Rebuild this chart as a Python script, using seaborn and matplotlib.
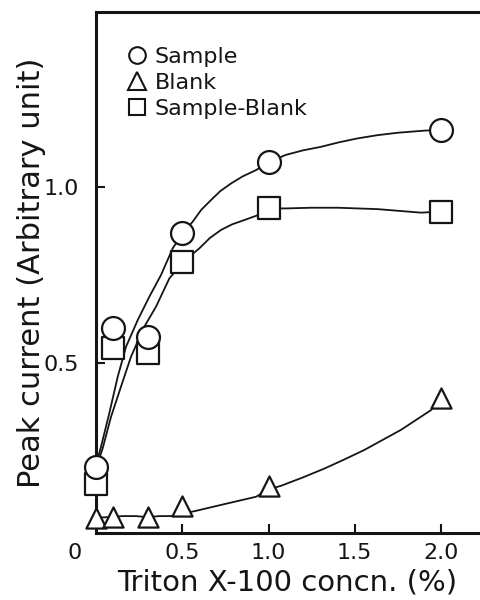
import matplotlib
matplotlib.use("Agg")
import matplotlib.pyplot as plt
from matplotlib.lines import Line2D
from matplotlib.transforms import ScaledTranslation
import seaborn as sns

# Measured peak currents vs. Triton X-100 concentration
conc = [0.0, 0.1, 0.3, 0.5, 1.0, 2.0]
sample = [0.205, 0.598, 0.575, 0.868, 1.072, 1.162]
blank = [0.060, 0.063, 0.062, 0.094, 0.151, 0.400]
sample_minus_blank = [0.155, 0.542, 0.528, 0.788, 0.939, 0.930]

# Hand-drawn trend curves through each series
sample_curve_x = [0.0, 0.029, 0.077, 0.126, 0.174, 0.242, 0.309, 0.377, 0.445, 0.503,
                  0.56, 0.61, 0.667, 0.72, 0.783, 0.85, 0.928, 1.01, 1.10, 1.2, 1.304,
                  1.41, 1.517, 1.63, 1.749, 1.903, 2.0]
sample_curve_y = [0.21, 0.262, 0.357, 0.461, 0.546, 0.622, 0.688, 0.75, 0.826, 0.868,
                  0.901, 0.935, 0.963, 0.988, 1.01, 1.03, 1.048, 1.072, 1.091, 1.104, 1.114,
                  1.127, 1.138, 1.147, 1.154, 1.16, 1.162]
smb_curve_x = [0.0, 0.039, 0.087, 0.145, 0.203, 0.28, 0.348, 0.425, 0.508, 0.6, 0.66,
               0.725, 0.79, 0.86, 0.928, 1.01, 1.10, 1.25, 1.40, 1.633, 1.884, 2.0]
smb_curve_y = [0.20, 0.258, 0.347, 0.433, 0.518, 0.603, 0.66, 0.74, 0.788, 0.826, 0.855,
               0.878, 0.894, 0.906, 0.918, 0.939, 0.939, 0.941, 0.941, 0.937, 0.927, 0.93]
blank_curve_x = [0.0, 0.097, 0.155, 0.232, 0.30, 0.367, 0.435, 0.58, 0.744, 0.928, 0.995,
                 1.072, 1.2, 1.324, 1.44, 1.556, 1.768, 1.942, 2.0]
blank_curve_y = [0.06, 0.063, 0.065, 0.065, 0.062, 0.065, 0.065, 0.08, 0.099, 0.12, 0.14,
                 0.151, 0.175, 0.20, 0.226, 0.253, 0.31, 0.366, 0.40]

series_labels = ["Sample", "Blank", "Sample-Blank"]
x_ticks = [0, 0.5, 1.0, 1.5, 2.0]
x_tick_labels = ["0", "0.5", "1.0", "1.5", "2.0"]
y_ticks = [0.5, 1.0]
y_tick_labels = ["0.5", "1.0"]

sns.set_theme(style="ticks")
plt.rcParams["font.family"] = ["DejaVu Sans"]
ink = "#151515"

fig = plt.figure(figsize=(4.8, 6.0), dpi=100)
ax_w = 2.3 * 172.5 / 480
ax = fig.add_axes([0.2, 1 - 533 / 600, ax_w, 521 / 600])
ax.set_facecolor("white")

# trend curves
for cx, cy in [(sample_curve_x, sample_curve_y),
               (smb_curve_x, smb_curve_y),
               (blank_curve_x, blank_curve_y)]:
    sns.lineplot(x=cx, y=cy, sort=False, estimator=None, color=ink,
                 linewidth=1.3, ax=ax, zorder=2)

# open markers
mk = dict(color="white", edgecolor=ink, linewidth=1.6, clip_on=False, legend=False)
sns.scatterplot(x=conc, y=sample_minus_blank, marker="s", s=250, ax=ax, zorder=3, **mk)
sns.scatterplot(x=conc, y=sample, marker="o", s=272, ax=ax, zorder=4, **mk)
sns.scatterplot(x=conc, y=blank, marker="^", s=210, ax=ax, zorder=3, **mk)

ax.set_xlim(0, 2.3)
ax.set_ylim(0.017, 1.497)
ax.set_xticks(x_ticks)
ax.set_xticklabels(x_tick_labels)
ax.set_yticks(y_ticks)
ax.set_yticklabels(y_tick_labels)
ax.tick_params(direction="in", length=6.5, width=1.5, colors=ink,
               labelsize=16, labelcolor=ink)
ax.tick_params(axis="y", pad=12)
ax.tick_params(axis="x", pad=7)

# origin label sits left of the axis line, without a tick mark
t0 = ax.xaxis.get_major_ticks()[0]
t0.tick1line.set_visible(False)
t0.label1.set_transform(t0.label1.get_transform()
                        + ScaledTranslation(-0.21, 0, fig.dpi_scale_trans))

for side in ["left", "bottom", "top", "right"]:
    ax.spines[side].set_linewidth(2.2)
    ax.spines[side].set_color(ink)

ax.set_ylabel("Peak current (Arbitrary unit)", fontsize=22, color=ink)
ax.set_xlabel("Triton X-100 concn. (%)", fontsize=21, color=ink)
ax.yaxis.set_label_coords(-(96 - 46) / (ax_w * 480), 0.5)
ax.xaxis.set_label_coords(0.481, -0.068)

handles = [
    Line2D([], [], marker="o", ls="none", mfc="white", mec=ink, ms=12, mew=1.5),
    Line2D([], [], marker="^", ls="none", mfc="white", mec=ink, ms=12.5, mew=1.5),
    Line2D([], [], marker="s", ls="none", mfc="white", mec=ink, ms=12, mew=1.5),
]
leg = ax.legend(handles, series_labels, loc="upper left",
                bbox_to_anchor=((126 - 96) / (ax_w * 480), 1 - 35 / 521),
                frameon=False, fontsize=16, handlelength=1.0, handletextpad=0.3,
                labelspacing=0.26, borderpad=0, borderaxespad=0)
for txt in leg.get_texts():
    txt.set_color(ink)

fig.savefig("out.png", dpi=100, facecolor="white")
